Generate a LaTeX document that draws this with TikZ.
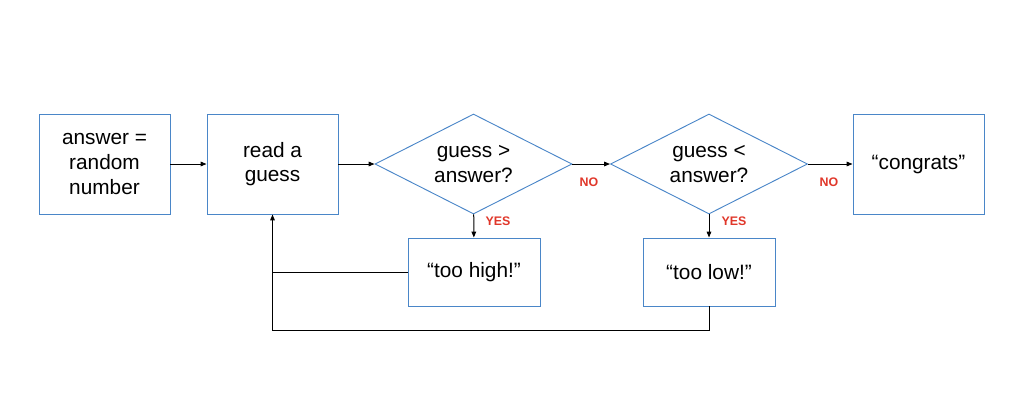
\documentclass[tikz,border=0pt]{standalone}
\usepackage{fontspec}
\setmainfont{Liberation Sans}
\usetikzlibrary{shapes.geometric,arrows.meta}

\definecolor{boxblue}{RGB}{74,134,200}
\definecolor{labelred}{RGB}{224,55,42}

\tikzset{
  stepbox/.style={draw=boxblue, line width=0.7pt, minimum width=98.25pt, minimum height=75pt,
    align=center, inner sep=0pt, font=\fontsize{15.6}{18.5}\selectfont},
  saybox/.style={stepbox, minimum width=99pt, minimum height=51pt},
  test/.style={draw=boxblue, line width=0.7pt, diamond, aspect=2, minimum width=147.75pt,
    minimum height=75pt, inner sep=0pt, align=center, font=\fontsize{15.6}{18.5}\selectfont},
  answer/.style={text=labelred, font=\fontsize{9.3}{10}\selectfont\bfseries},
  flow/.style={-{Triangle[length=4.5pt,width=3.5pt]}, line width=0.75pt},
  back/.style={line width=0.75pt}
}

\begin{document}
\begin{tikzpicture}[x=0.75pt,y=-0.75pt]
\useasboundingbox (0,0) rectangle (1024,400);

\node [stepbox] (Random) at (104.5,164) {answer =\\random\\number};
\node [stepbox] (Read) at (272.5,164) {read a\\guess};
\node [test] (High) at (473.5,164) {guess >\\answer?};
\node [test] (Low) at (709,164) {guess <\\answer?};
\node [stepbox] (Win) at (918.5,164) {“congrats”};
\node [saybox] (TooHigh) at (474,272) {“too high!”};
\node [saybox] (TooLow) at (709,272) {“too low!”};
\coordinate (Loop) at (272.5,330);

\draw [flow] (Random) -- (Read);
\draw [flow] (Read) -- (High);
\draw [flow] (High) -- (Low);
\draw [flow] (Low) -- (Win);
\draw [flow] (High) -- (TooHigh);
\draw [flow] (Low) -- (TooLow);

% both answers go back to reading a guess
\draw [flow] (TooHigh.west) -| (Read.south);
\draw [back] (TooLow.south) |- (Loop) -- (Loop |- TooHigh.west);

\node [answer] (NoHigh) at (589,182) {NO};
\node [answer] (YesHigh) at (498,221) {YES};
\node [answer] (NoLow) at (829,182) {NO};
\node [answer] (YesLow) at (734,221) {YES};

\end{tikzpicture}
\end{document}
